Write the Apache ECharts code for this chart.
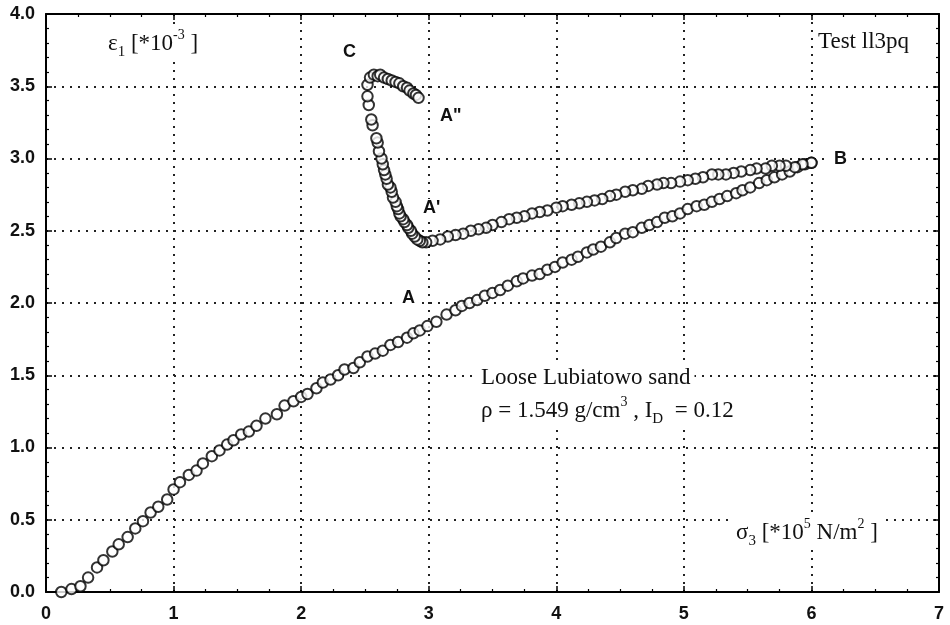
<!DOCTYPE html>
<html>
<head>
<meta charset="utf-8">
<title>Test ll3pq</title>
<script src="https://cdn.jsdelivr.net/npm/echarts@6/dist/echarts.min.js"></script>
<style>
  html, body { margin: 0; padding: 0; background: #fff; }
  #chart { width: 950px; height: 625px; }
</style>
</head>
<body>
<div id="chart"></div>
<script>
// loading path O -> B
const loadSigma = [0.12, 0.20, 0.27, 0.33, 0.40, 0.45, 0.52, 0.57, 0.64, 0.70, 0.76, 0.82, 0.88, 0.95, 1.00, 1.05, 1.12, 1.18, 1.23, 1.30,
  1.36, 1.42, 1.47, 1.53, 1.59, 1.65, 1.72, 1.81, 1.87, 1.94, 2.00, 2.05, 2.12, 2.17, 2.23, 2.29, 2.34, 2.41, 2.46, 2.52,
  2.58, 2.64, 2.70, 2.76, 2.83, 2.88, 2.93, 2.99, 3.06, 3.14, 3.21, 3.26, 3.32, 3.38, 3.44, 3.50, 3.56, 3.62, 3.69, 3.74,
  3.81, 3.87, 3.93, 3.99, 4.05, 4.12, 4.17, 4.24, 4.29, 4.35, 4.42, 4.47, 4.54, 4.60, 4.67, 4.73, 4.79, 4.85, 4.91, 4.97,
  5.03, 5.10, 5.16, 5.22, 5.28, 5.34, 5.41, 5.46, 5.52, 5.59, 5.65, 5.71, 5.77, 5.83, 5.89, 5.95, 6.00]
const loadEps = [0.00, 0.02, 0.04, 0.10, 0.17, 0.22, 0.28, 0.33, 0.38, 0.44, 0.49, 0.55, 0.59, 0.64, 0.71, 0.76, 0.81, 0.84, 0.89, 0.94,
  0.98, 1.02, 1.05, 1.09, 1.11, 1.15, 1.20, 1.23, 1.29, 1.32, 1.35, 1.37, 1.41, 1.45, 1.47, 1.50, 1.54, 1.55, 1.59, 1.63,
  1.65, 1.67, 1.71, 1.73, 1.76, 1.79, 1.81, 1.84, 1.87, 1.92, 1.95, 1.98, 2.00, 2.02, 2.05, 2.07, 2.09, 2.12, 2.15, 2.17,
  2.19, 2.20, 2.23, 2.25, 2.28, 2.30, 2.32, 2.35, 2.37, 2.39, 2.42, 2.45, 2.48, 2.49, 2.52, 2.54, 2.56, 2.59, 2.60, 2.62,
  2.65, 2.67, 2.68, 2.70, 2.72, 2.74, 2.76, 2.78, 2.80, 2.83, 2.85, 2.87, 2.89, 2.91, 2.94, 2.96, 2.97]

// unloading path B -> A'
const unloadSigma = [6.00, 5.93, 5.87, 5.80, 5.75, 5.69, 5.64, 5.57, 5.52, 5.45, 5.39, 5.33, 5.27, 5.22, 5.15, 5.09, 5.03, 4.97, 4.90, 4.84,
  4.79, 4.72, 4.67, 4.60, 4.54, 4.47, 4.42, 4.36, 4.30, 4.24, 4.18, 4.12, 4.05, 4.00, 3.93, 3.87, 3.81, 3.75, 3.69, 3.63,
  3.57, 3.50, 3.45, 3.39, 3.33, 3.27, 3.21, 3.15, 3.09, 3.03, 2.98, 2.95]
const unloadEps = [2.97, 2.96, 2.94, 2.95, 2.95, 2.95, 2.93, 2.93, 2.92, 2.91, 2.90, 2.89, 2.89, 2.89, 2.87, 2.86, 2.85, 2.84, 2.83, 2.83,
  2.82, 2.81, 2.79, 2.78, 2.77, 2.75, 2.74, 2.72, 2.71, 2.70, 2.69, 2.68, 2.67, 2.66, 2.64, 2.63, 2.62, 2.60, 2.59, 2.58,
  2.56, 2.54, 2.52, 2.51, 2.50, 2.48, 2.47, 2.46, 2.44, 2.43, 2.42, 2.42]

// path A' -> C -> A''
const loopSigma = [2.93, 2.91, 2.89, 2.87, 2.86, 2.84, 2.83, 2.81, 2.80, 2.78, 2.77, 2.76, 2.75, 2.74, 2.72, 2.71, 2.70, 2.68, 2.67, 2.66,
  2.65, 2.64, 2.63, 2.61, 2.60, 2.59, 2.56, 2.55, 2.53, 2.52, 2.52, 2.54, 2.57, 2.60, 2.62, 2.65, 2.68, 2.71, 2.74, 2.77,
  2.80, 2.83, 2.85, 2.88, 2.90, 2.92]
const loopEps = [2.43, 2.44, 2.46, 2.48, 2.50, 2.52, 2.54, 2.56, 2.58, 2.60, 2.62, 2.65, 2.67, 2.70, 2.73, 2.77, 2.80, 2.82, 2.86, 2.89,
  2.92, 2.96, 3.00, 3.05, 3.11, 3.14, 3.23, 3.27, 3.37, 3.43, 3.51, 3.56, 3.58, 3.57, 3.58, 3.56, 3.55, 3.54, 3.53, 3.52,
  3.50, 3.49, 3.47, 3.45, 3.44, 3.42]

const xTicks = [0, 1, 2, 3, 4, 5, 6, 7]
const yTicks = [0.0, 0.5, 1.0, 1.5, 2.0, 2.5, 3.0, 3.5, 4.0]

const zip = (xs, ys) => xs.map((x, i) => [x, ys[i]])

const chart = echarts.init(document.getElementById('chart'))

const sans = 'Liberation Sans, Arial, sans-serif'
const serif = 'Liberation Serif, Times New Roman, serif'

// dotted grid
const dotted = { color: '#222', width: 2, type: [2, 6] }

const pointStyle = {
  type: 'scatter',
  symbol: 'circle',
  symbolSize: 10.5,
  itemStyle: { color: '#fff', borderColor: '#000', borderWidth: 2 },
  silent: true
}

// text helper for annotations (white box hides the grid behind)
const label = (x, y, text, font, rich) => ({
  type: 'text',
  x: x,
  y: y,
  z: 100,
  style: {
    text: text,
    font: font,
    fill: '#111',
    align: 'left',
    verticalAlign: 'middle',
    backgroundColor: '#fff',
    padding: [0, 4],
    rich: rich || {}
  }
})

// rich text pieces: base, subscript, superscript
const base = size => ({ fontFamily: serif, fontSize: size, lineHeight: size + 8, verticalAlign: 'middle', fill: '#111' })
const sub = size => ({ fontFamily: serif, fontSize: size, lineHeight: size, verticalAlign: 'bottom', fill: '#111' })
const sup = size => ({ fontFamily: serif, fontSize: size, lineHeight: size, verticalAlign: 'top', fill: '#111' })

const letter = 'bold 18px ' + sans

const axisCommon = {
  type: 'value',
  axisLine: { onZero: false, lineStyle: { color: '#000', width: 2 } },
  axisTick: { inside: true, length: 6, lineStyle: { color: '#000', width: 1.5 } }
}

const option = {
  animation: false,
  backgroundColor: '#fff',
  grid: { left: 46, right: 11, top: 14, bottom: 33 },
  xAxis: [
    Object.assign({}, axisCommon, {
      min: xTicks[0],
      max: xTicks[xTicks.length - 1],
      interval: 1,
      minorTick: { show: true, splitNumber: 4, length: 3, lineStyle: { color: '#000', width: 1.2 } },
      axisLabel: { color: '#111', fontFamily: sans, fontWeight: 'bold', fontSize: 18, margin: 13 },
      splitLine: { show: true, lineStyle: dotted }
    }),
    Object.assign({}, axisCommon, {
      position: 'top',
      min: xTicks[0],
      max: xTicks[xTicks.length - 1],
      interval: 1,
      minorTick: { show: true, splitNumber: 4, length: 3, lineStyle: { color: '#000', width: 1.2 } },
      axisLabel: { show: false },
      splitLine: { show: false }
    })
  ],
  yAxis: [
    Object.assign({}, axisCommon, {
      min: yTicks[0],
      max: yTicks[yTicks.length - 1],
      interval: 0.5,
      minorTick: { show: true, splitNumber: 5, length: 3, lineStyle: { color: '#000', width: 1.2 } },
      axisLabel: { color: '#111', fontFamily: sans, fontWeight: 'bold', fontSize: 18, margin: 11, formatter: v => v.toFixed(1) },
      splitLine: { show: true, lineStyle: dotted }
    }),
    Object.assign({}, axisCommon, {
      position: 'right',
      min: yTicks[0],
      max: yTicks[yTicks.length - 1],
      interval: 0.5,
      minorTick: { show: true, splitNumber: 5, length: 3, lineStyle: { color: '#000', width: 1.2 } },
      axisLabel: { show: false },
      splitLine: { show: false }
    })
  ],
  series: [
    Object.assign({ name: 'loading', data: zip(loadSigma, loadEps) }, pointStyle),
    Object.assign({ name: 'unloading', data: zip(unloadSigma, unloadEps) }, pointStyle),
    Object.assign({ name: 'loop', data: zip(loopSigma, loopEps) }, pointStyle)
  ],
  graphic: [
    label(104, 44, '{b|ε}{s|1}{b| [*10}{p|-3}{b| ]}', '23px ' + serif, { b: base(23), s: sub(15), p: sup(14) }),
    label(814, 42, '{b|Test ll3pq}', '23px ' + serif, { b: base(23) }),
    label(339, 52, 'C', letter),
    label(436, 116, 'A"', letter),
    label(419, 208, "A'", letter),
    label(398, 298, 'A', letter),
    label(830, 159, 'B', letter),
    label(477, 378, '{b|Loose Lubiatowo sand}', '23px ' + serif, { b: base(23) }),
    label(477, 411, '{b|ρ = 1.549 g/cm}{p|3}{b| , I}{s|D}{b|  = 0.12}', '23px ' + serif,
      { b: base(23), s: sub(15), p: sup(14) }),
    label(732, 533, '{b|σ}{s|3}{b| [*10}{p|5}{b| N/m}{p|2}{b| ]}', '23px ' + serif,
      { b: base(23), s: sub(15), p: sup(14) })
  ]
}

chart.setOption(option)
</script>
</body>
</html>
